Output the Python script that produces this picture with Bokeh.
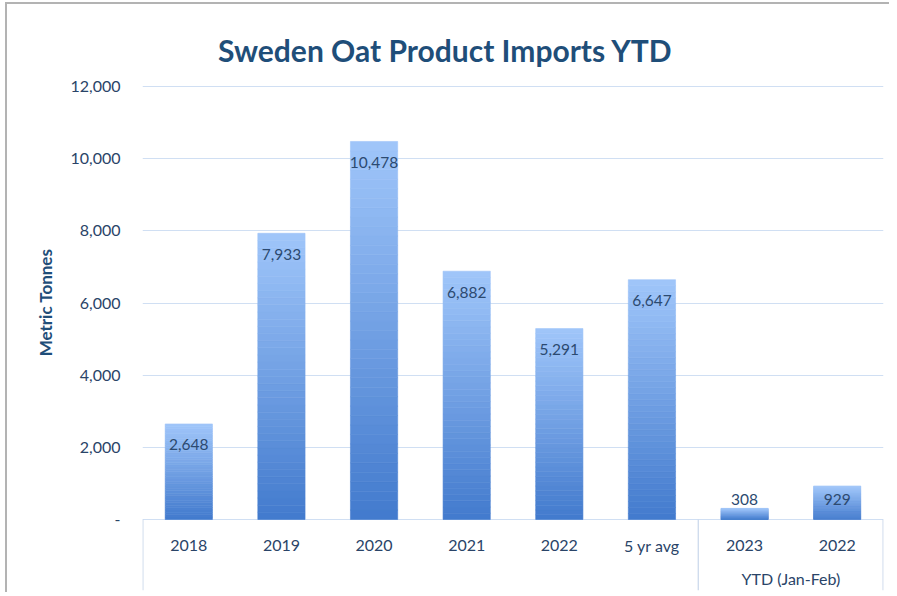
import numpy as np
from bokeh.plotting import figure
from bokeh.models import ColumnDataSource, FactorRange, Range1d, FixedTicker, NumeralTickFormatter
from bokeh.core.properties import value
from bokeh.embed import file_html
from bokeh.resources import INLINE

# ---------------- data ----------------
title_text = "Sweden Oat Product Imports YTD"
y_title = "Metric Tonnes"
categories = ["2018", "2019", "2020", "2021", "2022", "5 yr avg", "2023", "2022"]
groups = [" ", " ", " ", " ", " ", " ", "YTD (Jan-Feb)", "YTD (Jan-Feb)"]
group_label = "YTD (Jan-Feb)"
imports_t = [2648, 7933, 10478, 6882, 5291, 6647, 308, 929]
value_labels = ["2,648", "7,933", "10,478", "6,882", "5,291", "6,647", "308", "929"]
y_ticks = [0, 2000, 4000, 6000, 8000, 10000, 12000]

# ---------------- style ----------------
FONT = "Lato"
NAVY = "#1F4E79"
TICK_COLOR = "#2A4468"
LABEL_COLOR = "#2C4A70"
GRID = "#D0DFF3"
SEP = "#C8D6EA"
TOP_RGB = np.array([160, 198, 250])
BOT_RGB = np.array([66, 122, 205])
N_SLICES = 40
Y_MIN, Y_MAX = -1968, 13997

factors = list(zip(groups, categories))

p = figure(
    width=884, height=590,
    x_range=FactorRange(*factors, group_padding=0, factor_padding=0, range_padding=0),
    y_range=Range1d(Y_MIN, Y_MAX),
    output_backend="svg", toolbar_location=None,
    min_border_left=135, min_border_right=8, min_border_top=10, min_border_bottom=4,
)
p.outline_line_color = None
p.background_fill_color = "white"
p.border_fill_color = "white"
p.xaxis.visible = False
p.xgrid.visible = False

p.yaxis.ticker = FixedTicker(ticks=y_ticks)
p.yaxis.formatter = NumeralTickFormatter(format="0,0")
p.yaxis.major_label_overrides = {0: "-"}
p.yaxis.axis_line_color = None
p.yaxis.major_tick_line_color = None
p.yaxis.minor_tick_line_color = None
p.yaxis.major_label_standoff = 16
p.yaxis.major_label_text_font = FONT
p.yaxis.major_label_text_font_size = "16px"
p.yaxis.major_label_text_color = TICK_COLOR
p.yaxis.axis_label = y_title
p.yaxis.axis_label_text_font = FONT
p.yaxis.axis_label_text_font_size = "17px"
p.yaxis.axis_label_text_font_style = "bold"
p.yaxis.axis_label_text_color = NAVY
p.yaxis.axis_label_standoff = 11

p.ygrid.ticker = FixedTicker(ticks=y_ticks)
p.ygrid.grid_line_color = GRID
p.ygrid.grid_line_width = 1

# gradient bars: each bar split into thin slices of its own height
xs, bots, tops, cols = [], [], [], []
for f, v in zip(factors, imports_t):
    for k in range(N_SLICES):
        t = (k + 0.5) / N_SLICES
        rgb = BOT_RGB + (TOP_RGB - BOT_RGB) * t
        xs.append(f)
        bots.append(v * k / N_SLICES)
        tops.append(v * (k + 1) / N_SLICES)
        cols.append("#%02x%02x%02x" % tuple(int(round(c)) for c in rgb))
bar_src = ColumnDataSource(dict(x=xs, bottom=bots, top=tops, color=cols))
p.vbar(x="x", bottom="bottom", top="top", width=0.51, source=bar_src,
       fill_color="color", line_color="color", line_width=0.6)

# value labels (inside end)
label_y = [max(v, 1140) for v in imports_t]
lab_src = ColumnDataSource(dict(x=factors, y=label_y, text=value_labels))
p.text(x="x", y="y", text="text", source=lab_src, y_offset=21,
       text_align="center", text_baseline="middle",
       text_font=value(FONT), text_font_size="15.5px", text_color=LABEL_COLOR)

# category labels below zero line
cat_src = ColumnDataSource(dict(x=factors, y=[-720] * len(factors), text=categories))
p.text(x="x", y="y", text="text", source=cat_src,
       text_align="center", text_baseline="middle",
       text_font=value(FONT), text_font_size="16px", text_color=TICK_COLOR)
grp_src = ColumnDataSource(dict(x=[group_label], y=[-1635], text=[group_label]))
p.text(x="x", y="y", text="text", source=grp_src,
       text_align="center", text_baseline="middle",
       text_font=value(FONT), text_font_size="16px", text_color=TICK_COLOR)

# separators of the category axis
p.segment(x0=[0.004, 6, 7.996], x1=[0.004, 6, 7.996], y0=[0, 0, 0], y1=[Y_MIN] * 3,
          line_color=SEP, line_width=1.2)

# chart title
p.text(x=[3.27], y=[13000], text=[title_text], text_align="center", text_baseline="middle",
       text_font=value(FONT), text_font_size="30px", text_font_style="bold", text_color=NAVY)

# picture frame edges (left and top)
p.styles = {"margin-left": "7px", "margin-top": "4px",
            "box-shadow": "-2px -2px 0 0 #B3B3B3"}

open("out.html", "w").write(file_html(p, INLINE))
